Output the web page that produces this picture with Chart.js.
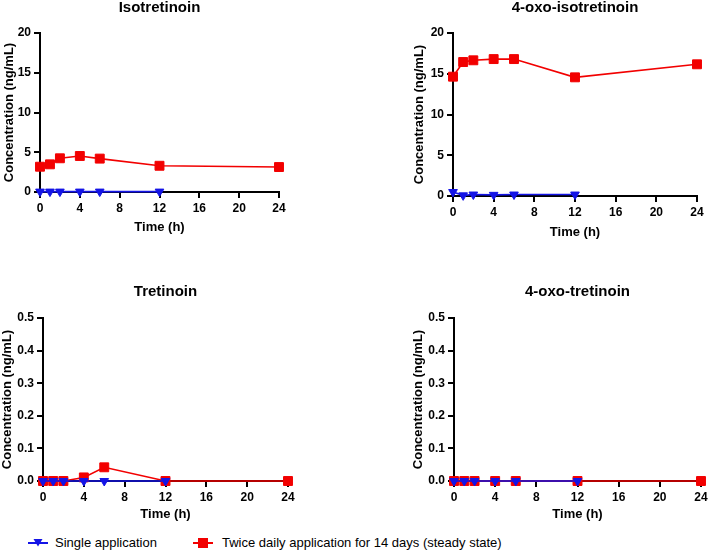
<!DOCTYPE html>
<html>
<head>
<meta charset="utf-8">
<script src="https://cdn.jsdelivr.net/npm/chart.js@4"></script>
<style>
  body { margin: 0; background: #fff; width: 709px; height: 552px; position: relative; overflow: hidden; font-family: "Liberation Sans", Arial, sans-serif; }
  canvas { position: absolute; }
  #legend { position: absolute; left: 0; top: 533px; height: 20px; font-size: 13px; color: #000; }
  .item { position: absolute; top: 0; white-space: nowrap; line-height: 20px; }
  .item svg { position: absolute; top: 0; }
</style>
</head>
<body>
<canvas id="isotret"></canvas>
<canvas id="oxoIsotret"></canvas>
<canvas id="tret"></canvas>
<canvas id="oxoTret"></canvas>
<div id="legend">
  <div class="item" style="left:27px">
    <svg width="22" height="20"><line x1="1" y1="10" x2="21" y2="10" stroke="#1414e6" stroke-width="2"/><polygon points="6.5,6 15.5,6 11,13.5" fill="#1414e6"/></svg>
    <span style="position:absolute;left:28px">Single application</span>
  </div>
  <div class="item" style="left:192px">
    <svg width="22" height="20"><line x1="1" y1="10" x2="21" y2="10" stroke="#f20000" stroke-width="2"/><rect x="6" y="5" width="10" height="10" fill="#f20000"/></svg>
    <span style="position:absolute;left:30px">Twice daily application for 14 days (steady state)</span>
  </div>
</div>
<script>
// sampling times (h)
const singleTimes = [0, 1, 2, 4, 6, 12];
const twiceTimes = [0, 1, 2, 4, 6, 12, 24];

// concentrations (ng/mL)
const isotretSingle = [0.05, 0.05, 0.05, 0.05, 0.05, 0.05];
const isotretTwice = [3.18, 3.48, 4.24, 4.53, 4.2, 3.3, 3.14];

const oxoIsotretSingle = [0.49, 0.08, 0.18, 0.14, 0.18, 0.18];
const oxoIsotretTwice = [14.64, 16.44, 16.65, 16.8, 16.8, 14.56, 16.16];

const tretSingle = [0, 0, 0, 0, 0, 0];
const tretTwice = [0, 0, 0, 0.011, 0.042, 0, 0];

const oxoTretSingle = [0, 0, 0, 0, 0, 0];
const oxoTretTwice = [0, 0, 0, 0, 0, 0, 0];

const xTicks = [0, 4, 8, 12, 16, 20, 24];

const blue = '#1414e6';
const red = '#f20000';
const fontFam = '"Liberation Sans", Arial, sans-serif';

Chart.defaults.font.family = fontFam;
Chart.defaults.color = '#000';

function pts(times, vals) {
    let out = [];
    for (let i = 0; i < times.length; i++) {
        out.push({ x: times[i], y: vals[i] });
    }
    return out;
}

function makePanel(id, title, single, twice, yMax, yStep, yDecimals, area, yW, xH, titleY) {
    const canvas = document.getElementById(id);
    const padR = 14;
    const left = area.l - yW;
    const top = titleY - 9;
    const w = area.r + padR - left;
    const h = area.b + xH - top;
    canvas.width = w;
    canvas.height = h;
    canvas.style.left = left + 'px';
    canvas.style.top = top + 'px';
    canvas.style.width = w + 'px';
    canvas.style.height = h + 'px';

    return new Chart(canvas, {
        type: 'line',
        data: {
            datasets: [
                {
                    label: 'Single application',
                    data: pts(singleTimes, single),
                    borderColor: blue,
                    backgroundColor: blue,
                    borderWidth: 1.6,
                    pointStyle: 'triangle',
                    pointRotation: 180,
                    pointRadius: 5,
                    pointBorderWidth: 1,
                    clip: false
                },
                {
                    label: 'Twice daily application for 14 days (steady state)',
                    data: pts(twiceTimes, twice),
                    borderColor: red,
                    backgroundColor: red,
                    borderWidth: 1.6,
                    pointStyle: 'rect',
                    pointRadius: 6.3,
                    pointBorderWidth: 1,
                    clip: false
                }
            ]
        },
        options: {
            responsive: false,
            maintainAspectRatio: false,
            animation: false,
            layout: { padding: { left: 0, top: 0, right: padR, bottom: 0 } },
            plugins: {
                legend: { display: false },
                tooltip: { enabled: false },
                title: {
                    display: true,
                    text: title,
                    fullSize: false,
                    font: { size: 15, weight: 'bold' },
                    color: '#000',
                    padding: { top: 0, bottom: area.t - top - 18 }
                }
            },
            scales: {
                x: {
                    type: 'linear',
                    min: 0,
                    max: 24,
                    afterBuildTicks: s => { s.ticks = xTicks.map(v => ({ value: v })); },
                    afterFit: s => { s.height = xH; },
                    grid: { drawOnChartArea: false, drawTicks: true, tickLength: 6, color: '#000', lineWidth: 2 },
                    border: { color: '#000', width: 2 },
                    ticks: { font: { size: 12, weight: 'bold' }, padding: 3, maxRotation: 0 },
                    title: { display: true, text: 'Time (h)', font: { size: 13, weight: 'bold' }, padding: 0 }
                },
                y: {
                    min: 0,
                    max: yMax,
                    afterFit: s => { s.width = yW; },
                    grid: { drawOnChartArea: false, drawTicks: true, tickLength: 6, color: '#000', lineWidth: 2 },
                    border: { color: '#000', width: 2 },
                    ticks: {
                        stepSize: yStep,
                        font: { size: 12, weight: 'bold' },
                        padding: 3,
                        callback: v => v.toFixed(yDecimals)
                    },
                    title: { display: true, text: 'Concentration (ng/mL)', font: { size: 13, weight: 'bold' }, padding: 0 }
                }
            }
        }
    });
}

makePanel('isotret', 'Isotretinoin', isotretSingle, isotretTwice, 20, 5, 0,
    { l: 40, t: 33, r: 279, b: 192 }, 38, 43, 8);
makePanel('oxoIsotret', '4-oxo-isotretinoin', oxoIsotretSingle, oxoIsotretTwice, 20, 5, 0,
    { l: 453, t: 33, r: 697, b: 196 }, 41, 44, 8);
makePanel('tret', 'Tretinoin', tretSingle, tretTwice, 0.5, 0.1, 1,
    { l: 43, t: 318, r: 288, b: 481 }, 43, 41, 292);
makePanel('oxoTret', '4-oxo-tretinoin', oxoTretSingle, oxoTretTwice, 0.5, 0.1, 1,
    { l: 454, t: 318, r: 701, b: 481 }, 43, 41, 292);
</script>
</body>
</html>
